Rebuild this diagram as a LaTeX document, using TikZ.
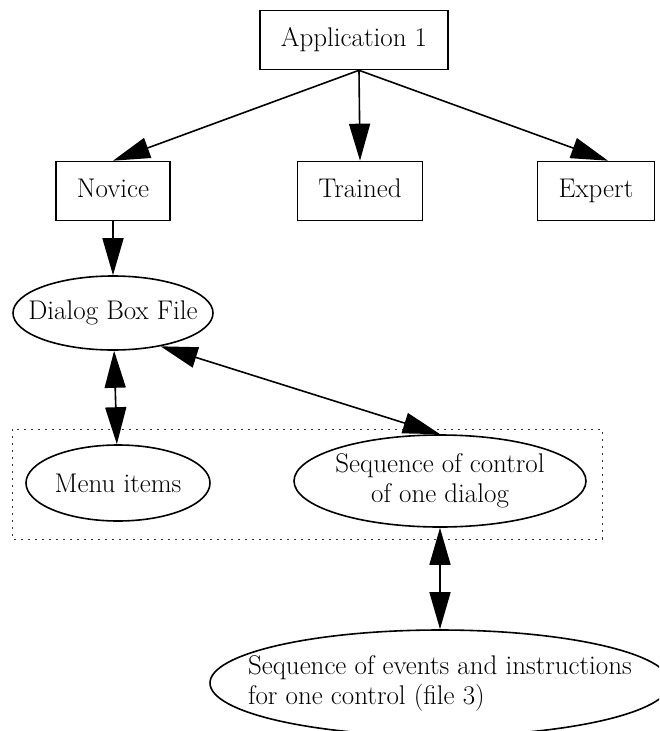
\documentclass[tikz,border=0pt]{standalone}
\usepackage{fontspec}
\usepackage{tikz}
\usetikzlibrary{shapes.geometric,arrows.meta}
\tikzset{
  userBox/.style={
    rectangle,
    draw=black,
    line width=1.6pt,
    inner xsep=21pt,
    text height=19pt,
    text depth=6pt,
    minimum height=59pt,
    align=center
  },
  fileEllipse/.style={
    ellipse,
    draw=black,
    line width=1.6pt,
    inner xsep=-40pt,
    inner ysep=0pt,
    align=center
  },
  arrowLine/.style={
    -{Triangle[length=37pt,width=21pt]},
    line width=1.6pt
  },
  bothLine/.style={
    {Triangle[length=37pt,width=21pt]}-{Triangle[length=37pt,width=21pt]},
    line width=1.6pt
  },
  clusterLine/.style={
    draw=black!80,
    line width=0.8pt,
    dash pattern=on 2pt off 5pt
  }
}

\begin{document}
\begin{tikzpicture}[
            x=1pt, y=-1pt,
            every node/.style={font=\fontsize{27}{30}\selectfont}
        ]
        \useasboundingbox (0,0) rectangle (659,731);
        \clip (0,0) rectangle (659,731);

        \node[userBox] (app) at (354,40) {Application 1};
        \node[userBox] (novice) at (113,191) {Novice};
        \node[userBox] (trained) at (360,191) {Trained};
        \node[userBox] (expert) at (596,191) {Expert};

        \node[fileEllipse, minimum width=200pt, minimum height=74pt] (dialog) at (113,313) {Dialog Box File};

        % cluster of the dialog files
        \draw[clusterLine] (12,429) rectangle (602,539);
        \node[fileEllipse, minimum width=184pt, minimum height=76pt] (menu) at (118,483) {Menu items};
        \node[fileEllipse, minimum width=292pt, minimum height=92pt] (control) at (440,481) {Sequence of control\\of one dialog};

        \node[fileEllipse, align=left, minimum width=460pt, minimum height=106pt] (events) at (440,683) {Sequence of events and instructions\\for one control (file 3)};

        \draw[arrowLine] ([xshift=5pt]app.south) -- (novice.north);
        \draw[arrowLine] ([xshift=5pt]app.south) -- (trained.north);
        \draw[arrowLine] ([xshift=5pt]app.south) -- ([xshift=12pt]expert.north);
        \draw[arrowLine] (novice) -- (dialog);
        \draw[bothLine] (dialog) -- (menu);
        \draw[bothLine] (dialog.-35) -- (control.north);
        \draw[bothLine] (control) -- (events);

    \end{tikzpicture}
\end{document}
